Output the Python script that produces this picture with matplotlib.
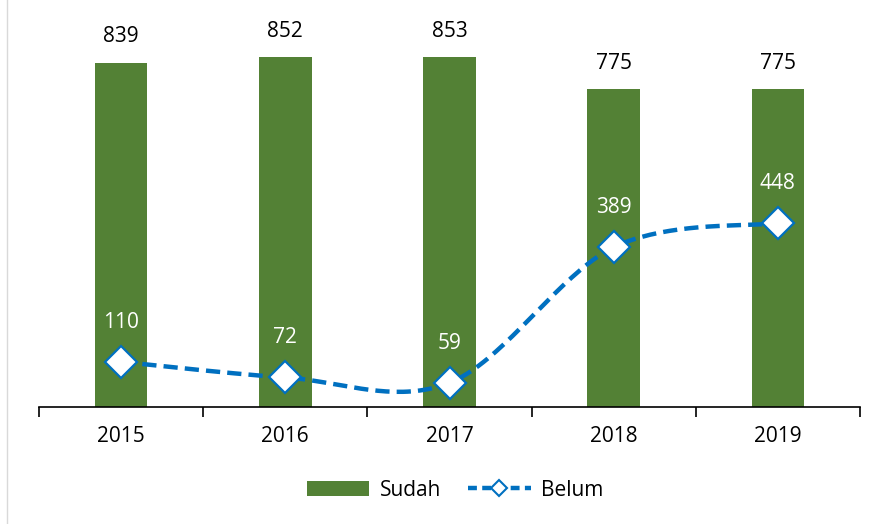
import numpy as np
import matplotlib.pyplot as plt
from matplotlib.lines import Line2D
from matplotlib.patches import Patch

# Data
years = ["2015", "2016", "2017", "2018", "2019"]
sudah = [839, 852, 853, 775, 775]
belum = [110, 72, 59, 389, 448]

GREEN = "#538135"
BLUE = "#0070C0"
FONT = "Open Sans"
FS = 15


def smooth_curve(x, y, steps=40):
    """Excel-style smoothed line (Catmull-Rom through the points)."""
    x = np.asarray(x, float)
    y = np.asarray(y, float)
    px = np.concatenate([[x[0]], x, [x[-1]]])
    py = np.concatenate([[y[0]], y, [y[-1]]])
    xs, ys = [], []
    for i in range(1, len(px) - 2):
        p0, p1, p2, p3 = (np.array([px[j], py[j]]) for j in range(i - 1, i + 3))
        c1 = p1 + (p2 - p0) / 6
        c2 = p2 - (p3 - p1) / 6
        t = np.linspace(0, 1, steps)[:, None]
        pts = ((1 - t) ** 3) * p1 + 3 * ((1 - t) ** 2) * t * c1 + 3 * (1 - t) * t ** 2 * c2 + t ** 3 * p2
        xs.extend(pts[:, 0])
        ys.extend(pts[:, 1])
    return np.array(xs), np.array(ys)


def main() -> None:
    fig = plt.figure(figsize=(8.78, 5.24), dpi=100)
    ax = fig.add_axes([39 / 878, 1 - 407 / 524, (860 - 39) / 878, (407 - 17) / 524])

    x = np.arange(len(years))
    ax.bar(x, sudah, width=0.32, color=GREEN, zorder=2)

    sx, sy = smooth_curve(x, belum)
    ax.plot(sx, sy, color=BLUE, lw=3.2, dashes=(3.2, 1.6), zorder=3)
    ax.plot(x, belum, ls="none", marker="D", markersize=16, markerfacecolor="white",
            markeredgecolor=BLUE, markeredgewidth=1.6, zorder=4)

    for xi, v in zip(x, sudah):
        ax.annotate(str(v), (xi, v), xytext=(0, 11), textcoords="offset points",
                    ha="center", va="bottom", fontsize=FS, family=FONT, color="black")
    for xi, v in zip(x, belum):
        ax.annotate(str(v), (xi, v), xytext=(0, 21), textcoords="offset points",
                    ha="center", va="bottom", fontsize=FS, family=FONT, color="white")

    ax.set_xlim(-0.5, len(years) - 0.5)
    ax.set_ylim(0, 950)
    ax.set_yticks([])
    for side in ["left", "right", "top"]:
        ax.spines[side].set_visible(False)
    ax.spines["bottom"].set_color("black")
    ax.spines["bottom"].set_linewidth(1.2)

    ax.set_xticks(np.arange(-0.5, len(years), 1))
    ax.set_xticklabels([])
    ax.tick_params(axis="x", length=7, width=1.2, color="black")
    ax.set_xticks(x, minor=True)
    ax.set_xticklabels(years, minor=True, fontsize=FS, family=FONT)
    ax.tick_params(axis="x", which="minor", length=0, pad=14)

    handles = [
        Patch(facecolor=GREEN, edgecolor="none"),
        Line2D([0], [0], color=BLUE, lw=3.2, dashes=(2, 1.2), marker="D", markersize=8,
               markerfacecolor="white", markeredgecolor=BLUE, markeredgewidth=1.5),
    ]
    fig.legend(handles, ["Sudah", "Belum"], loc="center", bbox_to_anchor=(455 / 878, 1 - 490 / 524),
               ncol=2, frameon=False, prop={"family": FONT, "size": FS},
               handlelength=3.0, columnspacing=1.3, handletextpad=0.5)

    # light chart border on the left
    fig.add_artist(Line2D([7 / 878, 7 / 878], [0, 1], color="#d9d9d9", lw=1))

    fig.savefig("out.png", dpi=100)
    plt.close(fig)


if __name__ == "__main__":
    main()
